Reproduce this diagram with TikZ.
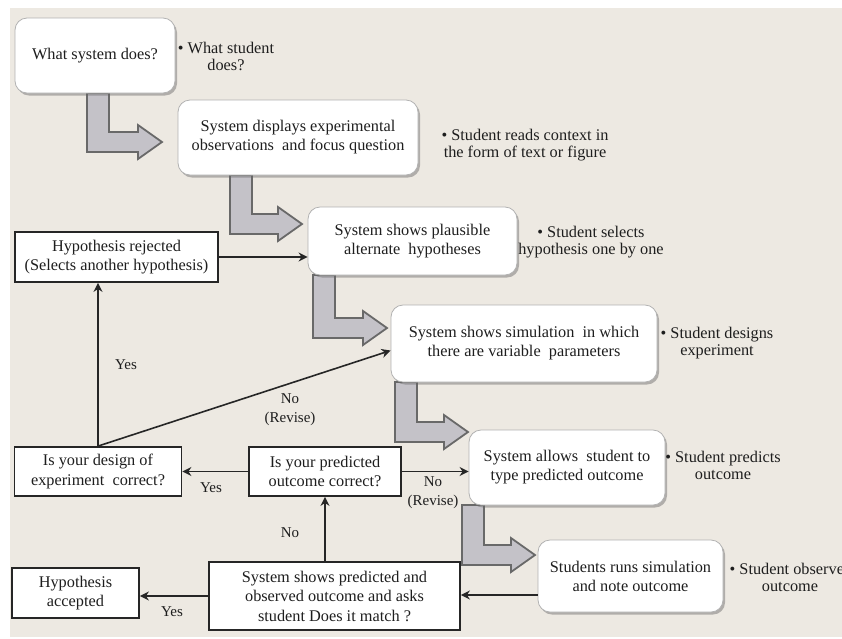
\documentclass[tikz,border=0pt]{standalone}
\usepackage{fontspec}
\setmainfont{Liberation Serif}
\usetikzlibrary{arrows.meta,shadows}
\definecolor{bg}{RGB}{237,233,226}
\definecolor{txt}{RGB}{30,30,30}
\definecolor{blkfill}{RGB}{196,194,200}
\definecolor{blkline}{RGB}{105,105,105}
\newcommand\blockarr[4]{%
  \draw[blk] ({#1},{#2}) -- ({#1},{#4+10}) -- ({#3-24},{#4+10}) -- ({#3-24},{#4+17})
    -- ({#3},{#4}) -- ({#3-24},{#4-17}) -- ({#3-24},{#4-10}) -- ({#1+22},{#4-10})
    -- ({#1+22},{#2}) -- cycle;}
\begin{document}
\begin{tikzpicture}[x=1pt,y=-1pt,
  sysbox/.style={draw=black!30, line width=0.8pt, fill=white, rounded corners=12pt,
    align=center, font=\fontsize{16.3}{19}\selectfont, text=txt, inner sep=2pt,
    drop shadow={shadow xshift=2pt, shadow yshift=-2.5pt, fill=black!60, opacity=0.45}},
  decbox/.style={draw=black!85, line width=1.8pt, fill=white, align=center,
    font=\fontsize{16.3}{19.5}\selectfont, text=txt, inner sep=2pt},
  note/.style={align=center, font=\fontsize{16.3}{17}\selectfont, text=txt, inner sep=0pt},
  lbl/.style={align=center, font=\fontsize{15}{19}\selectfont, text=txt, inner sep=0pt},
  conn/.style={draw=black!85, line width=1.6pt, -{Stealth[length=9pt,width=9pt]}},
  blk/.style={draw=blkline, line width=1.8pt, fill=blkfill, line join=miter}]
\useasboundingbox (0,0) rectangle (842,638);
\fill[white] (0,0) rectangle (842,638);
\fill[bg] (10,8) rectangle (842,637);

% block arrows
\blockarr{87}{93}{162}{142}
\blockarr{230}{175}{302}{224}
\blockarr{313}{275}{387}{328}
\blockarr{395}{382}{468}{432}
\blockarr{462}{505}{535}{555}

% system boxes
\node[sysbox, minimum width=160pt, minimum height=75pt] (sys1) at (95,55.5) {What system does?};
\node[sysbox, minimum width=240pt, minimum height=75pt] (sys2) at (298,137.5) {System displays experimental\\observations\ \ and focus question};
\node[sysbox, minimum width=209pt, minimum height=68pt] (sys3) at (412.5,241) {System shows plausible\\alternate\ \ hypotheses};
\node[sysbox, minimum width=266pt, minimum height=77pt] (sys4) at (524,343.5) {System shows simulation\ \ in which\\there are variable\ \ parameters};
\node[sysbox, minimum width=196pt, minimum height=75pt] (sys5) at (567,467.5) {System allows\ \ student to\\type predicted outcome};
\node[sysbox, minimum width=185pt, minimum height=72pt] (sys6) at (630.5,576) {Students runs simulation\\and note outcome};

% notes
\node[note] (n1) at (226,56) {• What student\\does?};
\node[note] (n2) at (525,145) {• Student reads context in\\the form of text or figure};
\node[note] (n3) at (591,242) {• Student selects\\hypothesis one by one};
\node[note] (n4) at (717,343) {• Student designs\\experiment};
\node[note] (n5) at (723,465) {• Student predicts\\outcome};
\node[note] (n6) at (790,577) {• Student observes\\outcome};

% decision boxes
\node[decbox, minimum width=203pt, minimum height=50pt] (rej) at (116.5,257) {Hypothesis rejected\\(Selects another hypothesis)};
\node[decbox, minimum width=167pt, minimum height=49pt] (design) at (98,471.5) {Is your design of\\experiment\ \ correct?};
\node[decbox, minimum width=152pt, minimum height=49pt] (pred) at (325,471.5) {Is your predicted\\outcome correct?};
\node[decbox, minimum width=127pt, minimum height=50pt] (acc) at (75.5,593) {Hypothesis\\accepted};
\node[decbox, minimum width=251pt, minimum height=68pt] (cmp) at (334.5,596) {System shows predicted and\\observed outcome and asks\\student Does it match ?};

% connectors
\coordinate (s4in) at ([yshift=-7pt]sys4.west);
\coordinate (s6out) at ([yshift=-19pt]sys6.west);
\draw[conn] (rej.east) -- (rej.east -| sys3.west);
\draw[conn] (design.north) -- (design.north |- rej.south);
\draw[conn] (design.north) -- (s4in);
\draw[conn] (pred.west) -- (design.east);
\draw[conn] (pred.east) -- (pred.east -| sys5.west);
\draw[conn] (pred.south |- cmp.north) -- (pred.south);
\draw[conn] (cmp.west) -- (cmp.west -| acc.east);
\draw[conn] (s6out) -- (s6out -| cmp.east);

% labels
\node[lbl] (yes1) at (126,365) {Yes};
\node[lbl] (norev1) at (290,410) {No\\(Revise)};
\node[lbl] (yes2) at (211,488) {Yes};
\node[lbl] (norev2) at (433,493) {No\\(Revise)};
\node[lbl] (no3) at (290,533) {No};
\node[lbl] (yes4) at (172,612) {Yes};
\end{tikzpicture}
\end{document}
